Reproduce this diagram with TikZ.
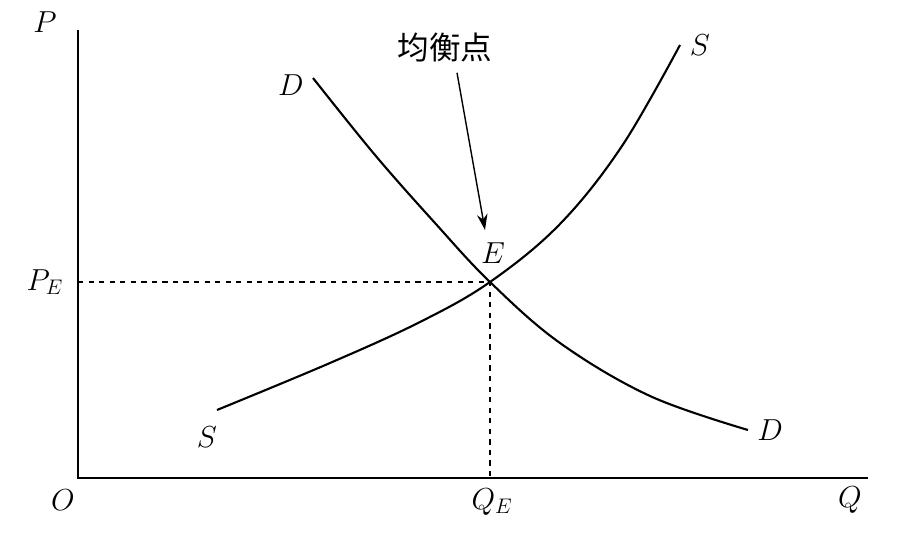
\documentclass[tikz,border=0pt]{standalone}
\usepackage{fontspec}
\newfontfamily\cjk{Noto Sans CJK SC}
\usetikzlibrary{arrows.meta}
\begin{document}
\begin{tikzpicture}[x=0.02cm,y=-0.02cm,
  curve/.style={line width=1.2pt},
  guide/.style={dashed,line width=0.7pt},
  lbl/.style={font=\fontsize{18}{20}\selectfont}]
\useasboundingbox (0,0) rectangle (907,550);
\coordinate (O) at (78,478);
\coordinate (Ptop) at (78,30);
\coordinate (Qend) at (868,478);
\coordinate (E) at (490,282);
\coordinate (PEa) at (78,282);
\coordinate (QEa) at (490,478);
\draw[line width=0.9pt] (Ptop) -- (O) -- (Qend);
\draw[guide] (PEa) -- (E) -- (QEa);
\draw[curve] plot[smooth,tension=0.6] coordinates {(313,78) (375,155) (435,223) (490,282) (560,343) (650,396) (748,430)};
\draw[curve] plot[smooth,tension=0.6] coordinates {(217,410) (330,363) (420,322) (490,282) (560,224) (622,146) (680,45)};
\node[lbl] (lO) at (63,500) {$O$};
\node[lbl] (lP) at (45,22) {$P$};
\node[lbl] (lQ) at (850,500) {$Q$};
\node[lbl] (lPE) at (45,282) {$P_E$};
\node[lbl] (lQE) at (492,502) {$Q_E$};
\node[lbl] (lE) at (493,253) {$E$};
\node[lbl] (lD1) at (291,85) {$D$};
\node[lbl] (lD2) at (770,430) {$D$};
\node[lbl] (lS1) at (207,437) {$S$};
\node[lbl] (lS2) at (700,45) {$S$};
\node[font=\cjk\fontsize{18}{20}\selectfont] (eq) at (445,48) {均衡点};
\draw[-{Stealth[length=9pt,width=6pt]},line width=0.8pt] (eq.south) ++(12,4) -- (485,230);
\end{tikzpicture}
\end{document}
